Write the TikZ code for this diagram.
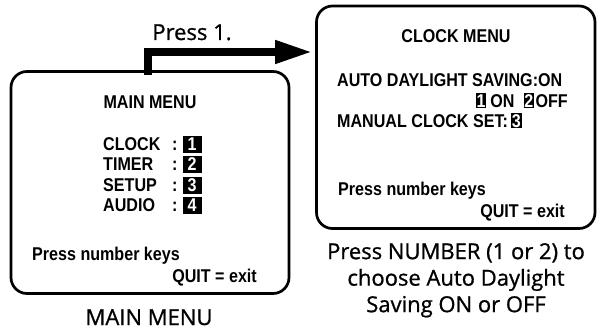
\documentclass[tikz,border=0pt]{standalone}
\usepackage{fontspec}
\setmainfont{Open Sans}
\newfontfamily\capfont{Open Sans}[FakeBold=0.9]
\newfontfamily\menufont{Liberation Sans}[FakeStretch=0.87]
\usetikzlibrary{arrows.meta}
\tikzset{
  panel/.style={draw, line width=2.7pt, rounded corners=16pt, inner sep=0pt, outer sep=0pt},
  menutext/.style={inner sep=0pt, font=\menufont\bfseries\fontsize{18.5}{20}\selectfont},
  keybox/.style={menutext, fill=black, text=white, minimum width=19pt, text height=14.5pt, text depth=2.5pt},
  caption/.style={inner sep=0pt, font=\capfont\fontsize{22}{26.5}\selectfont},
  flow/.style={line width=7.5pt, -{Triangle[length=37pt,width=22pt]}}
}
\newcommand{\numkey}[1]{{\setlength{\fboxsep}{0.8pt}\colorbox{black}{\textcolor{white}{#1}}}}
\begin{document}
\begin{tikzpicture}[x=1pt,y=-1pt]
        \useasboundingbox (0,0) rectangle (597,329);
        % the two screens
        \node[panel, minimum width=278pt, minimum height=222pt] (mainbox) at (150,182.5) {};
        \node[panel, minimum width=278.5pt, minimum height=222.5pt] (clockbox) at (455.75,117.25) {};
        % arrow between them
        \coordinate (bend) at (148,52);
        \draw[flow, shorten >=4.5pt] (bend |- mainbox.north) ++(0,3.5) -- (bend) -- (bend -| clockbox.west);
        \node[caption, anchor=base] (presslabel) at (192,40) {Press 1.};

        % main menu
        \node[menutext, anchor=base] (maintitle) at (150,108) {MAIN MENU};
        \node[menutext, anchor=base west] (clockitem) at (103,150) {CLOCK};
        \node[menutext, anchor=base west] (clockcolon) at (172,150) {:};
        \node[keybox, anchor=base] (clockkey) at (192,150) {1};
        \node[menutext, anchor=base west] (timeritem) at (103,170.5) {TIMER};
        \node[menutext, anchor=base west] (timercolon) at (172,170.5) {:};
        \node[keybox, anchor=base] (timerkey) at (192,170.5) {2};
        \node[menutext, anchor=base west] (setupitem) at (103,191) {SETUP};
        \node[menutext, anchor=base west] (setupcolon) at (172,191) {:};
        \node[keybox, anchor=base] (setupkey) at (192,191) {3};
        \node[menutext, anchor=base west] (audioitem) at (103,211.5) {AUDIO};
        \node[menutext, anchor=base west] (audiocolon) at (172,211.5) {:};
        \node[keybox, anchor=base] (audiokey) at (192,211.5) {4};
        \node[menutext, anchor=base west] (mainhint) at (32,260) {Press number keys};
        \node[menutext, anchor=base east] (mainquit) at (257,282) {QUIT = exit};
        \node[caption, anchor=base] (maincaption) at (149,325) {MAIN MENU};

        % clock menu
        \node[menutext, anchor=base] (clocktitle) at (456,43) {CLOCK MENU};
        \node[menutext, anchor=base west] (dstline) at (337,87) {AUTO DAYLIGHT SAVING:ON};
        \node[menutext, anchor=base east] (dstkeys) at (568,107) {\numkey{1}\kern4pt ON\kern9pt\numkey{2}\kern1.5pt OFF};
        \node[menutext, anchor=base west] (manualline) at (337,127) {MANUAL CLOCK SET:\kern3pt\numkey{3}};
        \node[menutext, anchor=base west] (clockhint) at (338,195) {Press number keys};
        \node[menutext, anchor=base east] (clockquit) at (565,217) {QUIT = exit};
        \node[caption, align=center, anchor=north] (clockcaption) at (456,243) {Press NUMBER (1 or 2) to\\choose Auto Daylight\\Saving ON or OFF};
\end{tikzpicture}
\end{document}
